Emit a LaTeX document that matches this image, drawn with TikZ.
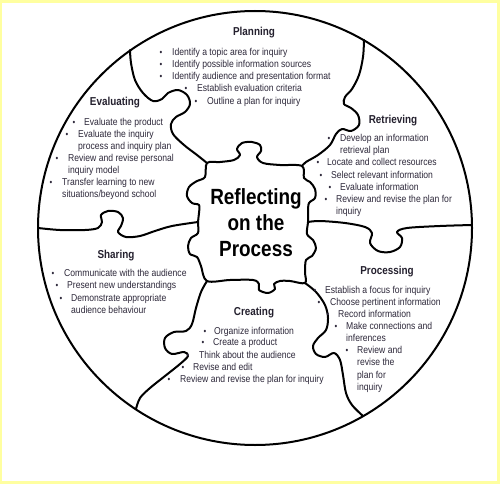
\documentclass[tikz,border=0pt]{standalone}
\usepackage{fontspec}
\newfontfamily\bodyfont{Liberation Sans}[FakeStretch=0.86]
\definecolor{inktext}{RGB}{45,40,58}
\definecolor{frameyellow}{RGB}{255,255,160}
\tikzset{
	puzzle/.style={line width=2pt, line join=round, line cap=round},
	stagetitle/.style={font=\bodyfont\bfseries\fontsize{11.5}{12}\selectfont, text=inktext!80!black, inner sep=0pt},
	bul/.style={font=\bodyfont\fontsize{9}{9}\selectfont, text=inktext, inner sep=0pt},
	itm/.style={font=\bodyfont\fontsize{10}{12.3}\selectfont, text=inktext, align=left, anchor=north west, inner sep=0pt},
	centretext/.style={font=\bodyfont\bfseries\fontsize{22}{26}\selectfont, align=center, inner sep=0pt}
}
\newcommand{\stageitem}[5]{
	\node[bul] (#1b) at (#2,#4) {\textbullet};
	\node[itm] (#1) at ({#3},{#4-5}) {#5};
}

\begin{document}
\begin{tikzpicture}[x=1pt,y=-1pt]
	\useasboundingbox (0,0) rectangle (500,484);
	%yellow frame round the page
	\fill[frameyellow] (0,0) rectangle (500,484);
	\fill[white] (2,3) rectangle (497,481);

	%outer circle
	\draw[puzzle] (255,228) circle[radius=217pt];

	%centre piece
	\draw[puzzle] plot[smooth cycle, tension=0.55] coordinates {
		(207,163) (220,162) (234,160) (240,155) (237,149) (242,143) (252,142) (260,145) (261,151) (257,157) (263,163) (280,165) (302,166)
		(304,178) (310,182) (315,189) (315,198) (309,203) (308,212) (308,222) (307,234) (313,240) (316,248) (312,256) (306,260) (305,272) (305,283)
		(290,281) (280,281) (274,284) (275,289) (268,293) (259,290) (259,284) (253,280) (230,280) (207,281)
		(201,266) (197,257) (190,254) (188,246) (191,238) (198,233) (198,222) (199,213) (199,205) (192,203) (187,196) (189,187) (197,181) (205,177)};

	%dividers between the stages
	%planning / evaluating
	\draw[puzzle] plot[smooth, tension=0.55] coordinates {(130,50) (131,63) (135,80) (143,93) (153,101) (162,99) (168,93) (178,90) (187,95) (190,104) (185,112) (176,117) (171,124) (173,134) (184,145) (197,155) (207,163)};
	%planning / retrieving
	\draw[puzzle] plot[smooth, tension=0.55] coordinates {(364,40) (363,57) (359,75) (352,89) (345,97) (344,104) (351,108) (358,115) (359,125) (351,131) (342,129) (336,134) (330,145) (318,155) (306,162) (302,166)};
	%retrieving / processing
	\draw[puzzle] plot[smooth, tension=0.55] coordinates {(308,222) (320,221) (345,223) (365,227) (372,233) (370,243) (378,251) (390,252) (400,247) (402,238) (397,232) (407,228) (440,226) (472,225)};
	%processing / creating
	\draw[puzzle] plot[smooth, tension=0.55] coordinates {(305,283) (316,292) (325,305) (328,318) (326,330) (318,338) (313,346) (316,354) (325,357) (334,353) (340,360) (343,375) (346,393) (352,405) (363,416)};
	%creating / sharing
	\draw[puzzle] plot[smooth, tension=0.55] coordinates {(207,281) (201,292) (196,308) (192,324) (186,331) (174,332) (165,338) (165,348) (172,354) (184,352) (188,356) (180,364) (165,376) (150,388) (140,398) (136,409)};
	%sharing / evaluating
	\draw[puzzle] plot[smooth, tension=0.55] coordinates {(38,228) (60,230) (85,230) (98,228) (102,222) (101,215) (108,211) (118,212) (123,218) (121,226) (118,232) (126,237) (140,236) (155,231) (172,226) (198,222)};

	%centre text
	\node[centretext] (reflect) at (256,223) {Reflecting\\on the\\Process};

	%planning
	\node[stagetitle] (planning) at (254,33) {Planning};
	\stageitem{p1}{161}{172}{53}{Identify a topic area for inquiry}
	\stageitem{p2}{161}{172}{65}{Identify possible information sources}
	\stageitem{p3}{161}{172}{77}{Identify audience and presentation format}
	\stageitem{p4}{186}{197}{89}{Establish evaluation criteria}
	\stageitem{p5}{196}{207}{102}{Outline a plan for inquiry}

	%evaluating
	\node[stagetitle] (evaluating) at (115,103) {Evaluating};
	\stageitem{e1}{74}{84}{123}{Evaluate the product}
	\stageitem{e2}{67}{78}{135}{Evaluate the inquiry\\process and inquiry plan}
	\stageitem{e3}{57}{68}{159}{Review and revise personal\\inquiry model}
	\stageitem{e4}{51}{62}{183}{Transfer learning to new\\situations/beyond school}

	%retrieving
	\node[stagetitle] (retrieving) at (393,121) {Retrieving};
	\stageitem{r1}{329}{340}{139}{Develop an information\\retrieval plan}
	\stageitem{r2}{318}{327}{163}{Locate and collect resources}
	\stageitem{r3}{321}{331}{176}{Select relevant information}
	\stageitem{r4}{330}{340}{188}{Evaluate information}
	\stageitem{r5}{326}{336}{200}{Review and revise the plan for\\inquiry}

	%sharing
	\node[stagetitle] (sharing) at (116,256) {Sharing};
	\stageitem{s1}{53}{64}{274}{Communicate with the audience}
	\stageitem{s2}{57}{67}{286}{Present new understandings}
	\stageitem{s3}{61}{71}{299}{Demonstrate appropriate\\audience behaviour}

	%creating
	\node[stagetitle] (creating) at (254,313) {Creating};
	\stageitem{c1}{205}{214}{332}{Organize information}
	\stageitem{c2}{203}{213}{343}{Create a product}
	\stageitem{c3}{188}{199}{356}{Think about the audience}
	\stageitem{c4}{183}{193}{368}{Revise and edit}
	\stageitem{c5}{169}{180}{380}{Review and revise the plan for inquiry}

	%processing
	\node[stagetitle] (processing) at (387,272) {Processing};
	\stageitem{g1}{315}{325}{291}{Establish a focus for inquiry}
	\stageitem{g2}{319}{330}{303}{Choose pertinent information}
	\stageitem{g3}{328}{338}{315}{Record information}
	\stageitem{g4}{336}{346}{327}{Make connections and\\inferences}
	\stageitem{g5}{347}{357}{351}{Review and\\revise the\\plan for\\inquiry}
\end{tikzpicture}
\end{document}
